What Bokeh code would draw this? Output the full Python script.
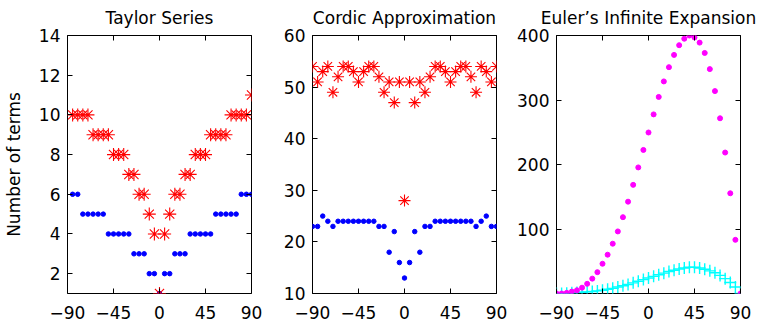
from bokeh.plotting import figure
from bokeh.layouts import row
from bokeh.models import Range1d, FixedTicker, LinearAxis
from bokeh.embed import file_html
from bokeh.resources import INLINE

# ---------------- data ----------------
taylor_angles = [-85, -80, -75, -70, -65, -60, -55, -50, -45, -40, -35, -30, -25, -20,
                 -15, -10, -5, 0, 5, 10, 15, 20, 25, 30, 35, 40, 45, 50, 55, 60, 65,
                 70, 75, 80, 85, 90]
taylor_dots = [6, 6, 5, 5, 5, 5, 5, 4, 4, 4, 4, 4, 3, 3, 3, 2, 2, 1, 2, 2, 3, 3, 3,
               4, 4, 4, 4, 4, 5, 5, 5, 5, 5, 6, 6, 6]
taylor_stars = [10, 10, 10, 10, 9, 9, 9, 9, 8, 8, 8, 7, 7, 6, 6, 5, 4, 1, 4, 5, 6, 6,
                7, 7, 8, 8, 8, 9, 9, 9, 9, 10, 10, 10, 10, 11]

angles = [-90, -85, -80, -75, -70, -65, -60, -55, -50, -45, -40, -35, -30, -25, -20,
          -15, -10, -5, 0, 5, 10, 15, 20, 25, 30, 35, 40, 45, 50, 55, 60, 65, 70, 75,
          80, 85, 90]
cordic_stars = [54, 51, 53, 54, 49, 52, 54, 54, 53, 51, 53, 54, 54, 52, 49, 51, 47, 51,
                28, 51, 47, 51, 49, 52, 54, 54, 53, 51, 53, 54, 54, 52, 49, 54, 53, 51, 54]
cordic_dots = [23, 23, 25, 24, 23, 24, 24, 24, 24, 24, 24, 24, 24, 23, 23, 18, 22, 16,
               13, 16, 22, 18, 23, 23, 24, 24, 24, 24, 24, 24, 24, 24, 23, 24, 25, 23, 23]
euler_dots = [1, 1, 2, 4, 6, 10, 16, 24, 34, 47, 61, 78, 97, 119, 143, 169, 196, 223,
              250, 278, 305, 329, 351, 370, 385, 395, 400, 397, 389, 373, 348, 314, 272,
              219, 156, 84, 1]
euler_plus = [1, 1, 1.5, 2, 2.5, 3, 3.5, 4, 5, 6, 7.5, 9, 11, 13, 15, 17.5, 20, 22.5,
              25, 27.5, 30, 32.5, 35, 37, 39, 40.5, 41.5, 41.5, 40.5, 38.5, 36, 33, 29,
              24, 18, 11, 1]

titles = ["Taylor Series", "Cordic Approximation", "Euler\u2019s Infinite Expansion"]
y_label = "Number of terms"
x_ticks = [-90, -45, 0, 45, 90]
taylor_yticks = [2, 4, 6, 8, 10, 12, 14]
cordic_yticks = [10, 20, 30, 40, 50, 60]
euler_yticks = [100, 200, 300, 400]

FONT = "DejaVu Sans"
FS = "17px"
MINUS = {-90: "\u221290", -45: "\u221245"}


def blank_axis(ticks):
    return LinearAxis(ticker=FixedTicker(ticks=ticks), major_tick_in=5, major_tick_out=0,
                      major_tick_line_color="black", minor_tick_line_color=None,
                      axis_line_color=None, major_label_text_font_size="1px",
                      major_label_text_color=None, major_label_standoff=0)


def make(title, yr, yticks, bl, br, ylabel=None):
    p = figure(frame_width=184, frame_height=258, output_backend="svg",
               toolbar_location=None, x_range=Range1d(-90, 90), y_range=Range1d(*yr),
               min_border_left=bl, min_border_right=br, min_border_top=35,
               min_border_bottom=36)
    p.background_fill_color = "white"
    p.border_fill_color = "white"
    p.outline_line_color = "black"
    p.outline_line_width = 1
    p.grid.visible = False
    for ax in (p.xaxis[0], p.yaxis[0]):
        ax.major_tick_in = 5
        ax.major_tick_out = 0
        ax.minor_tick_line_color = None
        ax.major_tick_line_color = "black"
        ax.axis_line_color = None
        ax.major_label_text_font = FONT
        ax.major_label_text_font_size = FS
        ax.major_label_text_color = "black"
    p.xaxis[0].ticker = FixedTicker(ticks=x_ticks)
    p.xaxis[0].major_label_overrides = MINUS
    p.xaxis[0].major_label_standoff = 12
    p.yaxis[0].ticker = FixedTicker(ticks=yticks)
    p.yaxis[0].major_label_standoff = 7
    if ylabel:
        p.yaxis[0].axis_label = ylabel
        p.yaxis[0].axis_label_text_font = FONT
        p.yaxis[0].axis_label_text_font_size = FS
        p.yaxis[0].axis_label_text_font_style = "normal"
        p.yaxis[0].axis_label_text_color = "black"
        p.yaxis[0].axis_label_standoff = 12
    p.add_layout(blank_axis(yticks), "right")
    top = blank_axis(x_ticks)
    top.axis_label = title
    top.axis_label_text_font = FONT
    top.axis_label_text_font_size = FS
    top.axis_label_text_font_style = "normal"
    top.axis_label_text_color = "black"
    top.axis_label_standoff = 8
    p.add_layout(top, "above")
    return p


p1 = make(titles[0], (1, 14), taylor_yticks, 67, 29, y_label)
p1.scatter(taylor_angles, taylor_dots, marker="circle", size=4.5, color="#0000FF")
p1.scatter(taylor_angles, taylor_stars, marker="asterisk", size=13, line_color="#FF0000",
           line_width=1.1)

p2 = make(titles[1], (10, 60), cordic_yticks, 31, 18)
p2.scatter(angles, cordic_stars, marker="asterisk", size=12, line_color="#FF0000",
           line_width=1.1)
p2.scatter(angles, cordic_dots, marker="circle", size=4.5, color="#0000FF")

p3 = make(titles[2], (1, 400), euler_yticks, 40, 23)
p3.scatter(angles, euler_plus, marker="cross", size=12, line_color="#00FFFF",
           line_width=1.4)
p3.scatter(angles, euler_dots, marker="circle", size=5, color="#FF00FF")

layout = row(p1, p2, p3, spacing=0)
open("out.html", "w").write(file_html(layout, INLINE))
